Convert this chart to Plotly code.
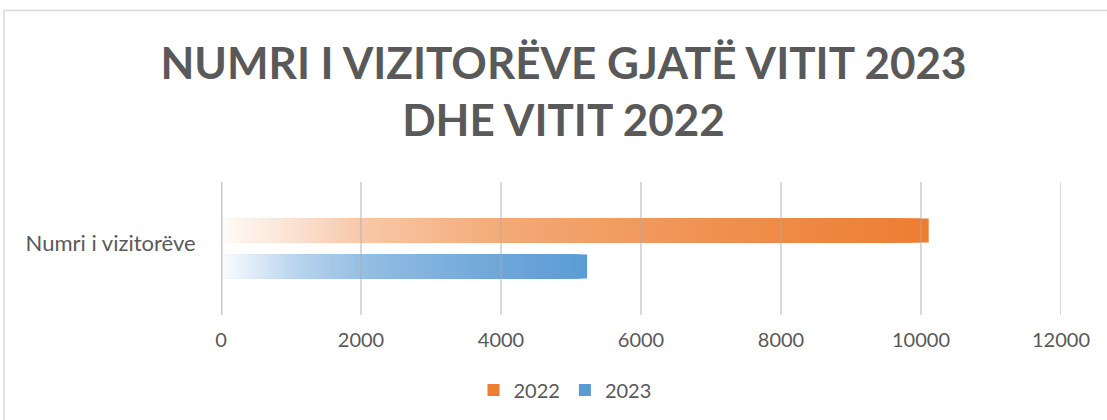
import plotly.graph_objects as go

# ---- data ----
categories = ["Numri i vizitorëve"]
series_names = ["2022", "2023"]
values_2022 = [10110]
values_2023 = [5230]
x_ticks = [0, 2000, 4000, 6000, 8000, 10000, 12000]
title_text = "NUMRI I VIZITORËVE GJATË VITIT 2023<br>DHE VITIT 2022"

# ---- style ----
COL = {"2022": (237, 125, 49), "2023": (91, 155, 213)}
TXT = "#595959"
FONT = "Lato"
N_STEPS = 90
STOPS = [(0.0, 0.03), (0.1, 0.22), (0.2, 0.42), (0.4, 0.66), (0.7, 0.85), (1.0, 1.0)]

W, H = 1107, 420
ML, MR, MT, MB = 221, 46, 182, 105
PW, PH = W - ML - MR, H - MT - MB

BAR_W = 24 / PH            # bar thickness in category units
BAR_SHIFT = 18 / PH        # distance of each bar centre from the category centre
OFFSETS = {"2022": BAR_SHIFT - BAR_W / 2, "2023": -BAR_SHIFT - BAR_W / 2}


def strength(t):
    for (t0, f0), (t1, f1) in zip(STOPS[:-1], STOPS[1:]):
        if t <= t1:
            return f0 + (f1 - f0) * (t - t0) / (t1 - t0)
    return 1.0


def mix(rgb, f):
    r, g, b = (round(255 + (c - 255) * f) for c in rgb)
    return f"rgb({r},{g},{b})"


def gradient_trace(name, vals):
    # overlapping bars from 0, longest (darkest) first, shorter (lighter) on top
    ys, xs, cols = [], [], []
    for cat, v in zip(categories, vals):
        for k in reversed(range(N_STEPS)):
            ys.append(cat)
            xs.append(v * (k + 1) / N_STEPS)
            cols.append(mix(COL[name], strength((k + 0.5) / N_STEPS)))
    return go.Bar(
        name=name, y=ys, x=xs, orientation="h",
        width=BAR_W, offset=OFFSETS[name],
        marker=dict(color=cols, line=dict(width=0)),
        hoverinfo="skip",
    )


fig = go.Figure()
fig.add_trace(gradient_trace("2022", values_2022))
fig.add_trace(gradient_trace("2023", values_2023))

# gridlines drawn above the bars
for t in x_ticks:
    fig.add_shape(
        type="line", xref="x", yref="paper", x0=t, x1=t, y0=0, y1=1,
        line=dict(color="rgba(170,170,170,0.45)" if t else "rgba(200,200,200,1)",
                  width=2 if t else 3),
        layer="above",
    )

# chart border (extends past right/bottom edge like the reference)
fig.add_shape(
    type="rect", xref="paper", yref="paper",
    x0=(4 - ML) / PW, x1=(W + 20 - ML) / PW,
    y0=(MT + PH - (H + 20)) / PH, y1=(MT + PH - 10.5) / PH,
    line=dict(color="#d9d9d9", width=1.5), fillcolor="rgba(0,0,0,0)",
    layer="below",
)

fig.update_layout(
    width=W, height=H,
    margin=dict(l=ML, r=MR, t=MT, b=MB, autoexpand=False),
    paper_bgcolor="white", plot_bgcolor="white",
    barmode="overlay",
    font=dict(family=FONT, color=TXT),
    title=dict(
        text=title_text, xref="container", x=0.509, xanchor="center",
        yref="container", y=1 - 79 / H, yanchor="top",
        font=dict(family=FONT, size=44, color=TXT, weight="bold"),
    ),
    showlegend=True,
    legend=dict(
        orientation="h",
        xref="container", x=565 / W, xanchor="center",
        yref="container", y=1 - 390 / H, yanchor="middle",
        font=dict(family=FONT, size=20, color=TXT),
        itemwidth=30,
    ),
    xaxis=dict(
        range=[0, 12000], tickvals=x_ticks, ticktext=[str(t) for t in x_ticks],
        showgrid=False, zeroline=False, showline=False,
        ticks="outside", ticklen=7, tickcolor="rgba(0,0,0,0)",
        tickfont=dict(family=FONT, size=20, color=TXT),
        fixedrange=True,
    ),
    yaxis=dict(
        type="category", categoryarray=categories, range=[-0.5, 0.5],
        showgrid=False, zeroline=False, showline=False,
        ticks="outside", ticklen=20, tickcolor="rgba(0,0,0,0)",
        ticklabelshift=-5,
        tickfont=dict(family=FONT, size=22, color=TXT),
        fixedrange=True,
    ),
)

fig.write_html("out.html")
